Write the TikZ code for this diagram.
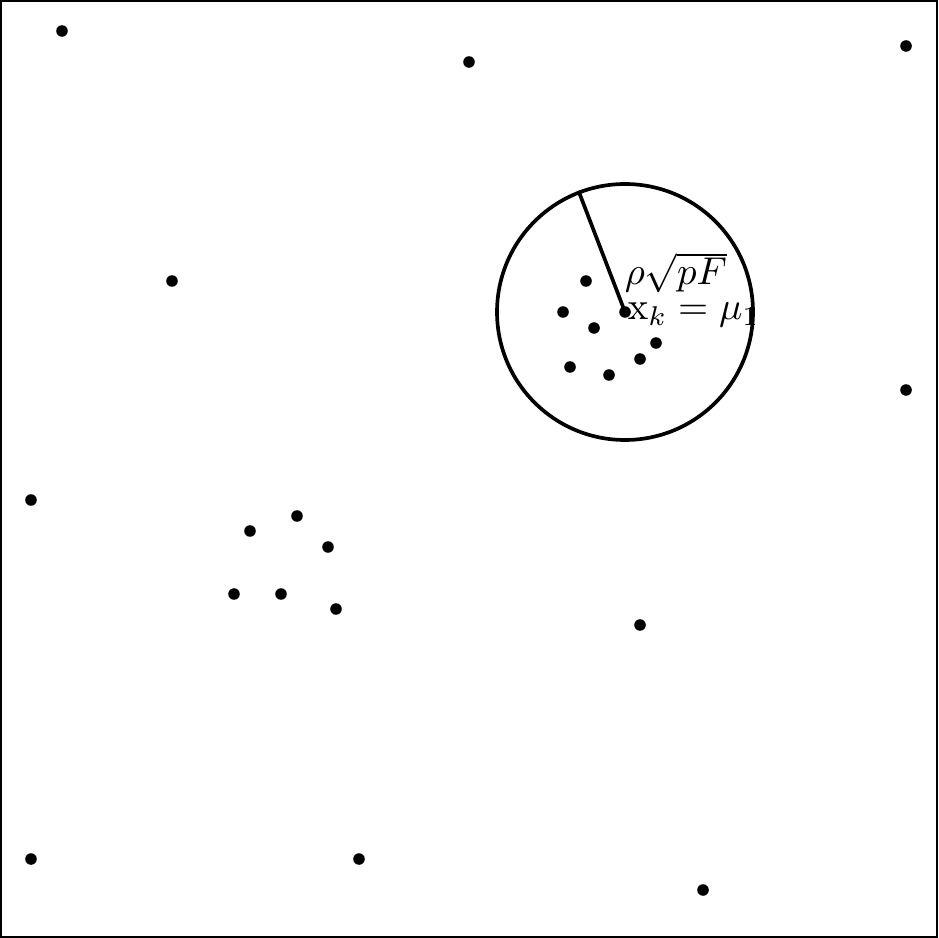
\documentclass[tikz,border=0pt]{standalone}
\begin{document}
\begin{tikzpicture}[x=0.009062cm,y=-0.009062cm,
  pt/.style={circle,fill=black,inner sep=0pt,minimum size=0.105cm},
  ring/.style={draw=black,line width=0.95pt},
  frame/.style={draw=black,line width=0.5pt}]
\useasboundingbox (0,0) rectangle (938,938);
\draw[frame] (1.2,1.2) rectangle (936.8,936.8);
% scattered points
\foreach \n/\x/\y in {a/62/31, b/469/62, c/906/46, d/172/281, e/906/390, f/31/500,
  g/250/531, h/297/516, i/328/547, j/234/594, k/281/594, l/336/609, m/640/625,
  n/31/859, o/359/859, p/703/890,
  q/586/281, r/563/312, s/594/328, t/656/343, u/640/359, v/570/367, w/609/375}
  \node[pt] (\n) at (\x,\y) {};
% cluster centre
\node[pt] (mu) at (625,312) {};
\node[circle,ring,minimum size=2.32cm,inner sep=0pt] (C) at (625,312) {};
\draw[ring] (mu.center) -- (C.111);
\node[anchor=base west,inner sep=0pt] (rad) at (624,285) {$\rho\sqrt{pF}$};
\node[anchor=west,inner sep=0pt] (lab) at (627,315) {$\mathrm{x}_k=\mu_1$};
\end{tikzpicture}
\end{document}
